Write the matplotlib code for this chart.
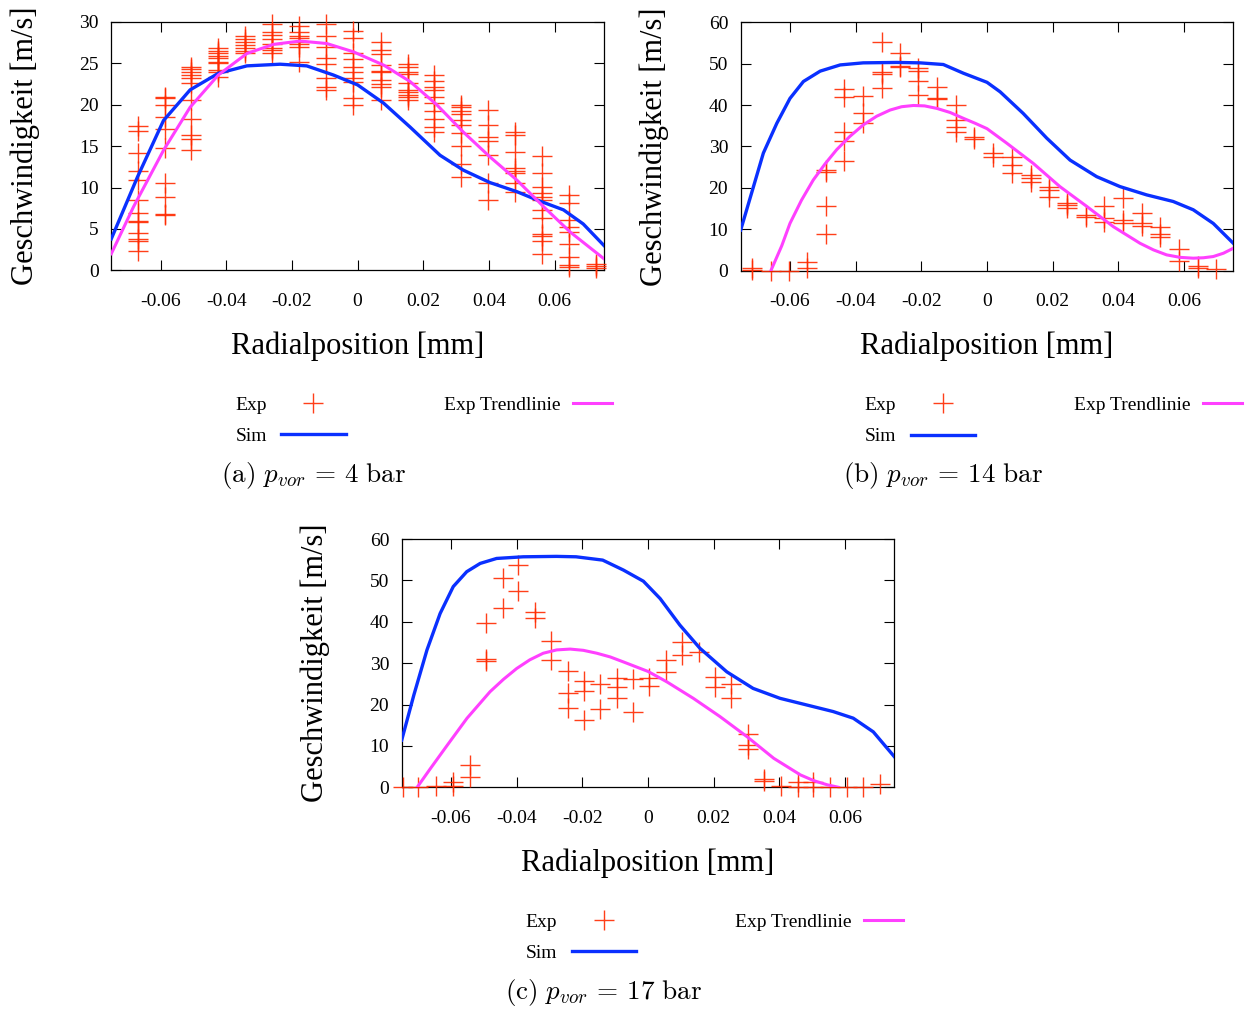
import matplotlib
matplotlib.use("Agg")
import matplotlib.pyplot as plt

plt.rcParams['font.family'] = ['Liberation Serif', 'DejaVu Serif']
plt.rcParams['mathtext.fontset'] = 'cm'

W, H = 1255, 1010

# ---- p_vor = 4 bar ----
exp_a_pos = [-0.067, -0.0588, -0.0506, -0.0424, -0.0342, -0.026, -0.0178, -0.0096, -0.0014,
             0.007, 0.0152, 0.0234, 0.0316, 0.0398, 0.048, 0.0562, 0.0644, 0.0726]
exp_a_vals = [
    [17.4, 16.8, 14.2, 12.0, 10.9, 8.5, 6.9, 6.0, 5.8, 4.5, 3.8, 3.5, 2.3],
    [20.9, 20.8, 20.0, 18.5, 17.1, 14.8, 10.5, 8.8, 6.8, 6.7],
    [24.6, 24.3, 23.9, 23.6, 23.2, 22.6, 20.6, 18.3, 16.4, 15.9, 14.5],
    [26.8, 26.5, 26.2, 25.9, 25.6, 25.2, 25.0, 24.2, 23.9, 23.4],
    [28.3, 28.0, 27.6, 27.2, 26.9, 26.5, 26.3],
    [29.8, 28.8, 28.4, 28.0, 27.4, 26.9, 26.6, 26.2],
    [29.5, 28.8, 28.3, 28.1, 27.6, 27.3, 27.0, 25.2],
    [29.7, 28.3, 27.0, 25.6, 24.9, 23.2, 22.2, 21.8],
    [28.9, 28.1, 26.2, 25.5, 24.6, 23.9, 23.2, 22.8, 20.8, 20.0],
    [27.6, 26.6, 26.1, 24.8, 24.1, 23.9, 23.0, 22.5, 22.1, 20.6],
    [24.9, 24.6, 23.9, 23.7, 22.6, 21.8, 21.5, 21.2, 20.9, 20.6],
    [23.6, 22.9, 22.2, 21.8, 20.9, 20.2, 19.3, 18.3, 17.3, 16.7],
    [20.0, 19.7, 19.3, 18.9, 18.1, 17.5, 16.6, 15.0, 12.8, 11.3],
    [19.4, 17.5, 16.1, 15.6, 13.9, 10.6, 8.5],
    [16.7, 16.4, 14.3, 12.3, 12.0, 11.7, 10.5, 9.5],
    [13.8, 11.8, 10.1, 9.3, 8.8, 8.5, 7.3, 6.3, 4.4, 4.1, 3.6, 2.0],
    [9.1, 8.1, 6.1, 5.2, 4.6, 3.2, 1.6, 0.6, 0.4],
    [0.8, 0.5, 0.3],
]
sim_a_x = [-0.075, -0.067, -0.0591, -0.051, -0.0424, -0.0337, -0.0236, -0.0155, -0.0074, 0.0,
           0.0079, 0.016, 0.0251, 0.0322, 0.0403, 0.0485, 0.0546, 0.0627, 0.0687, 0.075]
sim_a_y = [3.8, 11.3, 18.1, 21.8, 23.8, 24.7, 24.9, 24.7, 23.6, 22.4,
           20.2, 17.3, 13.9, 12.1, 10.6, 9.5, 8.5, 7.3, 5.6, 3.0]
trend_a_x = [-0.075, -0.0682, -0.0591, -0.051, -0.0424, -0.0337, -0.0256, -0.0175, -0.0094, -0.0013,
             0.0079, 0.016, 0.0241, 0.0322, 0.0403, 0.0485, 0.0566, 0.0648, 0.075]
trend_a_y = [2.0, 7.7, 14.5, 19.7, 23.6, 26.2, 27.3, 27.7, 27.4, 26.4,
             24.8, 22.8, 20.0, 16.7, 13.7, 10.9, 7.7, 4.6, 1.4]

# ---- p_vor = 14 bar ----
exp_b_pos = [-0.0716, -0.0658, -0.0602, -0.0547, -0.049, -0.0434, -0.0377, -0.0321, -0.0265,
             -0.0209, -0.0151, -0.0094, -0.0039, 0.0017, 0.0075, 0.0133, 0.0189, 0.0245,
             0.0302, 0.0357, 0.0415, 0.0473, 0.0527, 0.0586, 0.0641, 0.0698]
exp_b_vals = [
    [0.7, 0.2], [0.0], [0.0], [2.0, 0.6], [23.8, 24.3, 15.5, 8.9],
    [43.9, 41.9, 33.6, 31.3, 26.5], [42.3, 38.2, 35.6], [55.2, 48.1, 47.4, 44.1],
    [52.5, 49.5, 49.1], [48.9, 48.2, 45.8, 42.4], [44.4, 41.6, 41.4],
    [40.0, 36.4, 34.8, 33.6], [32.4, 31.7], [28.5, 27.5], [27.5, 25.4, 23.7],
    [23.1, 22.3, 21.5], [20.3, 19.5, 17.9], [16.4, 15.9, 15.1], [13.5, 13.0],
    [15.6, 12.7, 11.8], [17.5, 12.2, 11.4], [14.0, 11.4, 10.8], [10.6, 8.9, 8.2],
    [5.2, 2.2], [1.0, 0.7], [0.3],
]
sim_b_x = [-0.075, -0.0681, -0.064, -0.06, -0.0559, -0.0508, -0.0447, -0.0377, -0.0275, -0.0204,
           -0.0133, -0.0072, 0.0, 0.004, 0.011, 0.0182, 0.0253, 0.0334, 0.0405, 0.0486,
           0.0567, 0.0628, 0.0689, 0.075]
sim_b_y = [9.8, 28.4, 35.6, 41.6, 45.7, 48.2, 49.7, 50.2, 50.3, 50.2,
           49.8, 47.7, 45.5, 43.2, 38.0, 32.0, 26.7, 22.7, 20.3, 18.3,
           16.7, 14.7, 11.4, 6.6]
trend_b_x = [-0.0658, -0.0625, -0.06, -0.0565, -0.0529, -0.0493, -0.0458, -0.0418, -0.0377, -0.0336,
             -0.0295, -0.026, -0.0224, -0.019, -0.0153, -0.0112, -0.0072, -0.0036, 0.0,
             0.006, 0.0141, 0.0222, 0.0304, 0.0385, 0.0466, 0.0507, 0.0547, 0.0588, 0.0628,
             0.0659, 0.0689, 0.072, 0.075]
trend_b_y = [0.0, 6.0, 11.4, 17.0, 21.9, 25.8, 29.2, 32.4, 35.2, 37.3,
             38.8, 39.6, 39.9, 39.8, 39.2, 38.2, 36.8, 35.6, 34.3,
             30.8, 25.9, 20.3, 15.5, 10.6, 6.6, 5.0, 3.8, 3.2, 3.0,
             3.1, 3.4, 4.2, 5.4]

# ---- p_vor = 17 bar ----
exp_c_pos = [-0.0747, -0.07, -0.0645, -0.0594, -0.0543, -0.0494, -0.0443, -0.0395, -0.0344,
             -0.0294, -0.0245, -0.0195, -0.0146, -0.0095, -0.0047, 0.0004, 0.0055, 0.0104,
             0.0155, 0.0204, 0.0254, 0.0303, 0.0354, 0.0405, 0.0456, 0.0503, 0.0554,
             0.0605, 0.0654, 0.0705]
exp_c_vals = [
    [0.0], [0.0], [0.3], [1.2, 0.3], [5.4, 2.6], [39.8, 30.9, 30.5], [50.5, 43.4],
    [53.7, 47.4], [42.4, 40.8], [35.3, 30.7], [28.2, 22.9, 19.1], [25.8, 23.3, 16.3],
    [24.9, 18.9], [26.3, 24.2, 21.6], [26.2, 18.3], [26.3, 24.5], [30.7, 27.9],
    [35.2, 32.0], [32.8], [26.7, 24.3], [25.0, 21.6], [13.0, 10.2, 9.2], [2.0, 1.5],
    [0.4], [1.2, 0.0], [1.4, 0.0], [0.0], [0.0], [0.0], [0.7],
]
sim_c_x = [-0.075, -0.0713, -0.0673, -0.0633, -0.0593, -0.0552, -0.0511, -0.0461, -0.038, -0.0279,
           -0.0219, -0.0138, -0.0075, -0.0014, 0.0037, 0.0097, 0.0158, 0.024, 0.032, 0.0402,
           0.0483, 0.0564, 0.0625, 0.0686, 0.075]
sim_c_y = [11.4, 22.3, 33.2, 42.0, 48.5, 52.1, 54.1, 55.3, 55.7, 55.8,
           55.7, 54.9, 52.5, 49.8, 45.6, 39.2, 33.6, 27.9, 23.9, 21.5,
           19.9, 18.3, 16.7, 13.4, 7.4]
trend_c_x = [-0.0703, -0.0662, -0.0611, -0.0551, -0.0481, -0.044, -0.04, -0.036, -0.0319, -0.0278,
             -0.0237, -0.0197, -0.0156, -0.0115, -0.0075, 0.0, 0.0057, 0.0138, 0.0219, 0.0302,
             0.0383, 0.0464, 0.0505, 0.0546, 0.058]
trend_c_y = [0.0, 4.6, 10.2, 16.7, 23.1, 26.1, 28.7, 30.8, 32.4, 33.2,
             33.4, 33.1, 32.4, 31.5, 30.3, 28.0, 25.5, 21.5, 17.1, 12.2,
             7.0, 3.0, 1.6, 0.6, 0.0]

x_ticks = [-0.06, -0.04, -0.02, 0, 0.02, 0.04, 0.06]
x_tick_labels = ['-0.06', '-0.04', '-0.02', '0', '0.02', '0.04', '0.06']
captions = [r'$\mathrm{(a)}\ p_{vor}\,=\,4\ \mathrm{bar}$',
            r'$\mathrm{(b)}\ p_{vor}\,=\,14\ \mathrm{bar}$',
            r'$\mathrm{(c)}\ p_{vor}\,=\,17\ \mathrm{bar}$']

RED = '#ff2a00'
BLUE = '#0a30ff'
MAGENTA = '#ff40ff'


def flatten(pos, vals):
    xs, ys = [], []
    for p, col in zip(pos, vals):
        for v in col:
            xs.append(p)
            ys.append(v)
    return xs, ys


def panel(fig, left, top, exp_pos, exp_vals, sim_x, sim_y, trend_x, trend_y, ymax, ystep, caption):
    # left/top are pixel positions of the plot frame
    w, h = 492.6, 248.3
    ax = fig.add_axes([left / W, 1 - (top + h) / H, w / W, h / H])
    ex, ey = flatten(exp_pos, exp_vals)
    h_exp, = ax.plot(ex, ey, '+', color=RED, markersize=14, markeredgewidth=1.0,
                     alpha=0.9, clip_on=False, zorder=3)
    h_sim, = ax.plot(sim_x, sim_y, color=BLUE, lw=2.4, zorder=4)
    h_trend, = ax.plot(trend_x, trend_y, color=MAGENTA, lw=2.2, zorder=5)

    ax.set_xlim(-0.075, 0.075)
    ax.set_ylim(0, ymax)
    ax.set_xticks(x_ticks)
    ax.set_xticklabels(x_tick_labels)
    ax.set_yticks(list(range(0, ymax + 1, ystep)))
    ax.tick_params(direction='in', length=7, width=0.8, top=True, right=True, labelsize=14)
    ax.tick_params(axis='x', pad=16)
    ax.tick_params(axis='y', pad=9)
    for s in ax.spines.values():
        s.set_linewidth(0.9)

    ax.set_xlabel('Radialposition [mm]', fontsize=22)
    ax.xaxis.set_label_coords(0.5, -0.245)
    ax.set_ylabel('Geschwindigkeit [m/s]', fontsize=22)
    ax.yaxis.set_label_coords(-0.145, 0.5)

    key_top = top + h + 126
    leg1 = ax.legend([h_exp, h_sim], ['Exp', 'Sim'], loc='upper left',
                     bbox_to_anchor=((left + 124) / W, 1 - key_top / H),
                     bbox_transform=fig.transFigure, frameon=False, markerfirst=False,
                     handlelength=3.3, handletextpad=0.75, borderpad=0, borderaxespad=0,
                     labelspacing=0.7, fontsize=14)
    ax.add_artist(leg1)
    ax.legend([h_trend], ['Exp Trendlinie'], loc='upper left',
              bbox_to_anchor=((left + 333) / W, 1 - key_top / H),
              bbox_transform=fig.transFigure, frameon=False, markerfirst=False,
              handlelength=2.0, handletextpad=0.65, borderpad=0, borderaxespad=0,
              fontsize=14)

    fig.text((left + 202) / W, 1 - (top + h + 205) / H, caption, fontsize=19.5,
             ha='center', va='center')
    return ax


fig = plt.figure(figsize=(W / 100, H / 100), dpi=100)
panel(fig, 111.3, 22.0, exp_a_pos, exp_a_vals, sim_a_x, sim_a_y, trend_a_x, trend_a_y, 30, 5, captions[0])
panel(fig, 740.7, 22.3, exp_b_pos, exp_b_vals, sim_b_x, sim_b_y, trend_b_x, trend_b_y, 60, 10, captions[1])
panel(fig, 401.7, 539.0, exp_c_pos, exp_c_vals, sim_c_x, sim_c_y, trend_c_x, trend_c_y, 60, 10, captions[2])

fig.savefig('out.png', dpi=100)
